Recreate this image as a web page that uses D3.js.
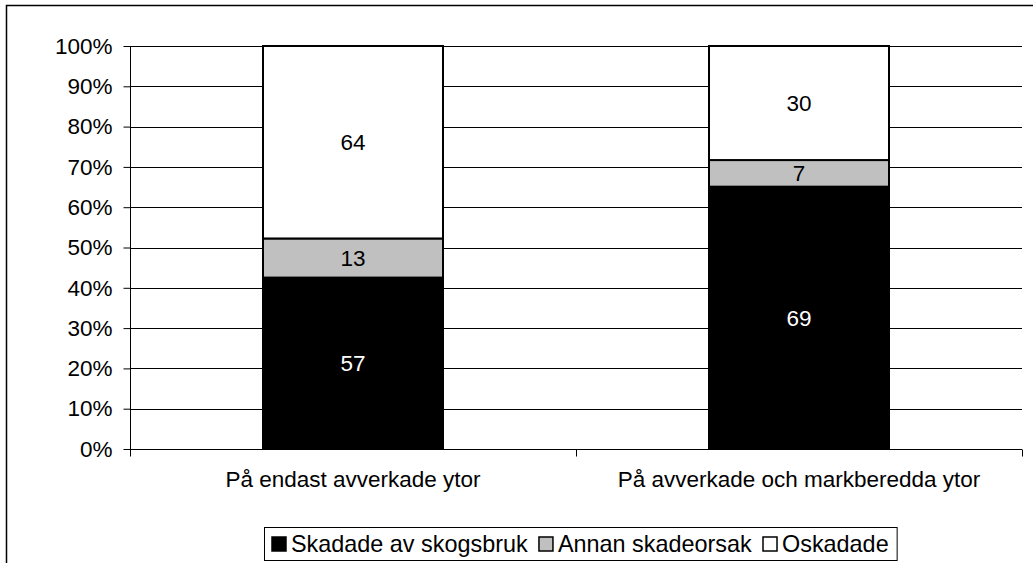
<!DOCTYPE html>
<html>
<head>
<meta charset="utf-8">
<script src="https://cdn.jsdelivr.net/npm/d3@7"></script>
<style>
body { margin: 0; background: #fff; }
svg { font-family: "Liberation Sans", Arial, sans-serif; }
</style>
</head>
<body>
<svg width="1033" height="563"></svg>
<script>
// categories and series (counts, shown as share of total)
var categories = ["På endast avverkade ytor", "På avverkade och markberedda ytor"];
var seriesNames = ["Skadade av skogsbruk", "Annan skadeorsak", "Oskadade"];
var skadadeSkogsbruk = [57, 69];
var annanSkadeorsak = [13, 7];
var oskadade = [64, 30];
var yTicks = [0, 0.1, 0.2, 0.3, 0.4, 0.5, 0.6, 0.7, 0.8, 0.9, 1];

var colors = ["#000000", "#c0c0c0", "#ffffff"];
var labelColors = ["#ffffff", "#000000", "#000000"];
var fontSize = 22.5;

var svg = d3.select('svg');

// outer frame
svg.append('rect')
  .attr('x', 6.5).attr('y', 5.5)
  .attr('width', 1200).attr('height', 700)
  .attr('fill', 'none').attr('stroke', '#000').attr('stroke-width', 1.5);

var pLeft = 130, pRight = 1022, pTop = 46, pBottom = 449;

var xs = d3.scaleBand().domain(categories).range([pLeft, pRight]);
var ys = d3.scaleLinear().domain([0, 1]).range([pBottom, pTop]);

// gridlines
svg.append('g')
  .selectAll('line')
  .data(yTicks.slice(1))
  .enter()
  .append('line')
  .attr('x1', pLeft).attr('x2', pRight)
  .attr('y1', function(d) { return Math.round(ys(d)) + 0.5; })
  .attr('y2', function(d) { return Math.round(ys(d)) + 0.5; })
  .attr('stroke', '#000').attr('stroke-width', 1);

// stack data
var table = categories.map(function(c, i) {
  return { cat: c, s0: skadadeSkogsbruk[i], s1: annanSkadeorsak[i], s2: oskadade[i] };
});
var stack = d3.stack().keys(['s0', 's1', 's2']).offset(d3.stackOffsetExpand);
var layers = stack(table);

var barW = 180;
layers.forEach(function(layer, k) {
  var g = svg.append('g');
  g.selectAll('rect')
    .data(layer)
    .enter()
    .append('rect')
    .attr('x', function(d) { return xs(d.data.cat) + xs.bandwidth() / 2 - barW / 2; })
    .attr('width', barW)
    .attr('y', function(d) { return ys(d[1]); })
    .attr('height', function(d) { return ys(d[0]) - ys(d[1]); })
    .attr('fill', colors[k])
    .attr('stroke', '#000')
    .attr('stroke-width', 2);
  g.selectAll('text')
    .data(layer)
    .enter()
    .append('text')
    .attr('x', function(d) { return xs(d.data.cat) + xs.bandwidth() / 2; })
    .attr('y', function(d) { return (ys(d[0]) + ys(d[1])) / 2; })
    .attr('dy', '0.35em')
    .attr('text-anchor', 'middle')
    .attr('font-size', fontSize)
    .attr('fill', labelColors[k])
    .text(function(d) { return d.data[layer.key]; });
});

// y axis
var yAxis = svg.append('g')
  .attr('transform', 'translate(' + (pLeft + 0.5) + ',0)')
  .call(d3.axisLeft(ys).tickValues(yTicks).tickFormat(d3.format('.0%')).tickSize(7).tickPadding(11));
yAxis.attr('font-family', null);
yAxis.select('.domain').attr('d', 'M0,' + pTop + 'V' + pBottom);
yAxis.selectAll('text').attr('font-size', fontSize).attr('fill', '#000');

// x axis
var xAxis = svg.append('g')
  .attr('transform', 'translate(0,' + (pBottom + 0.5) + ')')
  .call(d3.axisBottom(xs).tickSize(0).tickPadding(22));
xAxis.attr('font-family', null);
xAxis.select('.domain').attr('d', 'M' + pLeft + ',0H' + pRight);
xAxis.selectAll('text').attr('font-size', fontSize).attr('fill', '#000');
xAxis.selectAll('.sep')
  .data([pLeft, pLeft + xs.bandwidth(), pRight])
  .enter()
  .append('line')
  .attr('x1', function(d) { return Math.round(d) + 0.5; })
  .attr('x2', function(d) { return Math.round(d) + 0.5; })
  .attr('y1', 0).attr('y2', 7)
  .attr('stroke', '#000');

// legend
var legend = svg.append('g');
var lx = 272, ly = 544;
var items = legend.selectAll('g')
  .data(seriesNames)
  .enter()
  .append('g');
items.append('rect')
  .attr('width', 14).attr('height', 14)
  .attr('fill', function(d, i) { return colors[i]; })
  .attr('stroke', '#000').attr('stroke-width', 1.5);
items.append('text')
  .attr('x', 19).attr('y', 7).attr('dy', '0.35em')
  .attr('font-size', 23.4)
  .text(function(d) { return d; });
var cx = lx;
items.each(function() {
  var w = this.getBBox().width;
  d3.select(this).attr('transform', 'translate(' + cx + ',' + (ly - 7) + ')');
  cx += w + 11;
});
legend.insert('rect', ':first-child')
  .attr('x', 264.5).attr('y', 527.5)
  .attr('width', cx - 264 - 3).attr('height', 33)
  .attr('fill', '#fff').attr('stroke', '#000').attr('stroke-width', 1);
</script>
</body>
</html>
